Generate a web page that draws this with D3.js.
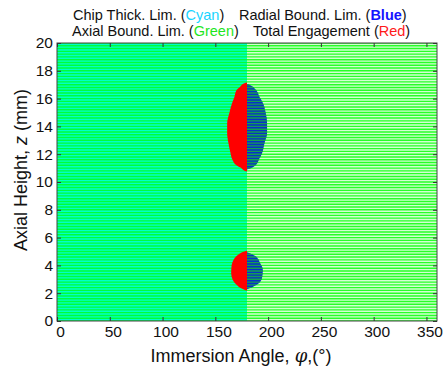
<!DOCTYPE html>
<html><head><meta charset="utf-8">
<script src="https://cdn.jsdelivr.net/npm/d3@7"></script>
<style>
body{margin:0;background:#fff}
svg{display:block}
text{font-family:"Liberation Sans",Arial,Helvetica,sans-serif}
</style>
</head><body>
<svg id="c" width="445" height="372"></svg>
<script>
// ---- data ----
const xTicks = [0, 50, 100, 150, 200, 250, 300, 350];
const yTicks = [0, 2, 4, 6, 8, 10, 12, 14, 16, 18, 20];
const zoneSplit = 180;           // angle where chip-thickness zone ends
const angleMax = 360;
const heightMax = 20;

// upper engagement blob: red (total engagement) starting angle per height
const topRedZ     = [17.15, 17.1, 16.86, 16.6, 16.1, 15.7, 15.0, 14.2, 13.5, 12.8, 12.1, 11.6, 11.2, 11.0, 10.8, 10.75];
const topRedStart = [180, 177.6, 173.5, 170, 168, 166, 163.4, 161.2, 161.2, 162.4, 164.3, 166.2, 170, 174.5, 178, 180];
// upper blob: blue (radial bound) exit angle per height
const topBlueZ    = [17.05, 17.0, 16.6, 16.1, 15.7, 15.0, 14.2, 13.5, 12.8, 12.1, 11.6, 11.2, 11.0, 10.9];
const topBlueEnd  = [180, 182, 188.7, 192, 195, 197.6, 199, 199, 196.6, 194.4, 191.2, 188, 184, 180];

// lower engagement blob
const botRedZ     = [5.05, 5.0, 4.75, 4.39, 3.9, 3.43, 2.95, 2.59, 2.35, 2.23, 2.18];
const botRedStart = [180, 177.6, 171.3, 167.2, 165.3, 165, 166.5, 170.3, 174.5, 178, 180];
const botBlueZ    = [4.95, 4.87, 4.63, 4.15, 3.67, 3.19, 2.83, 2.59, 2.35, 2.28];
const botBlueEnd  = [180, 182.4, 188.7, 192.5, 195, 194.4, 192.5, 188.7, 182.4, 180];

// ---- drawing ----
const svg = d3.select("#c");
const x = d3.scaleLinear().domain([0, angleMax]).range([57, 437]);
const y = d3.scaleLinear().domain([0, heightMax]).range([321, 43]);
const rows = y.ticks(100);

const plot = svg.append("g");
const defs = svg.append("defs");
defs.append("clipPath").attr("id","plotClip").append("rect")
  .attr("x", x(0)).attr("y", y(heightMax))
  .attr("width", x(angleMax)-x(0)).attr("height", y(0)-y(heightMax));
plot.attr("clip-path","url(#plotClip)");

// zone backgrounds
plot.append("rect").attr("x", x(0)).attr("y", y(heightMax))
  .attr("width", x(zoneSplit)-x(0)).attr("height", y(0)-y(heightMax)).attr("fill", "#00ffc8");
plot.append("rect").attr("x", x(zoneSplit)).attr("y", y(heightMax))
  .attr("width", x(angleMax)-x(zoneSplit)).attr("height", y(0)-y(heightMax)).attr("fill", "#d2ffd2");

// axial bound lines (green) at every height step
plot.append("g").selectAll("line").data(rows).join("line")
  .attr("x1", x(0)).attr("x2", x(zoneSplit))
  .attr("y1", d => y(d)).attr("y2", d => y(d))
  .attr("stroke", "#00ff3a").attr("stroke-width", 1.4);
plot.append("g").selectAll("line").data(rows).join("line")
  .attr("x1", x(zoneSplit)).attr("x2", x(angleMax))
  .attr("y1", d => y(d)).attr("y2", d => y(d))
  .attr("stroke", "#28ff28").attr("stroke-width", 1.4);

const pack = (zs, ps) => zs.map((z, i) => ({z: z, phi: ps[i]}));
const area = d3.area().curve(d3.curveMonotoneY)
  .y(d => y(d.z)).x0(x(zoneSplit)).x1(d => x(d.phi));

const blueBlobs = [pack(topBlueZ, topBlueEnd), pack(botBlueZ, botBlueEnd)];
const redBlobs = [pack(topRedZ, topRedStart), pack(botRedZ, botRedStart)];

// blue (radial bound)
const bc = defs.append("clipPath").attr("id", "blueClip");
bc.selectAll("path").data(blueBlobs).join("path").attr("d", area);
plot.append("g").selectAll("path").data(blueBlobs).join("path")
  .attr("d", area).attr("fill", "#0a2ecc");
plot.append("g").attr("clip-path", "url(#blueClip)")
  .selectAll("line").data(rows).join("line")
  .attr("x1", x(zoneSplit)).attr("x2", x(angleMax))
  .attr("y1", d => y(d)).attr("y2", d => y(d))
  .attr("stroke", "#14a050").attr("stroke-width", 1.4);

// red (total engagement)
plot.append("g").selectAll("path").data(redBlobs).join("path")
  .attr("d", area).attr("fill", "#ff0000");

// frame
svg.append("rect").attr("x", x(0)).attr("y", y(heightMax))
  .attr("width", x(angleMax)-x(0)).attr("height", y(0)-y(heightMax))
  .attr("fill", "none").attr("stroke", "#444").attr("stroke-width", 1);

// axes
const fs = "15.5px";
const axB = svg.append("g").attr("transform", `translate(0,${y(0)})`)
  .call(d3.axisBottom(x).tickValues(xTicks).tickSizeInner(-4).tickSizeOuter(0).tickPadding(5));
const axT = svg.append("g").attr("transform", `translate(0,${y(heightMax)})`)
  .call(d3.axisTop(x).tickValues(xTicks).tickSizeInner(-4).tickSizeOuter(0).tickFormat(""));
const axL = svg.append("g").attr("transform", `translate(${x(0)},0)`)
  .call(d3.axisLeft(y).tickValues(yTicks).tickSizeInner(-4).tickSizeOuter(0).tickPadding(4));
const axR = svg.append("g").attr("transform", `translate(${x(angleMax)},0)`)
  .call(d3.axisRight(y).tickValues(yTicks).tickSizeInner(-4).tickSizeOuter(0).tickFormat(""));
[axB, axT, axL, axR].forEach(g => {
  g.select(".domain").remove();
  g.selectAll(".tick line").attr("stroke", "#333");
  g.selectAll("text").attr("fill", "#111").style("font-size", fs)
    .style("font-family", '"Liberation Sans",Arial,sans-serif');
});
axB.selectAll("text").attr("dx", 3);

// axis titles
const xt = svg.append("text").attr("x", 241).attr("y", 362).attr("text-anchor", "middle")
  .attr("fill", "#111").style("font-size", "18px");
xt.append("tspan").text("Immersion Angle, ");
xt.append("tspan").style("font-style", "italic").style("font-family", '"DejaVu Serif",serif').text("φ");
xt.append("tspan").text(",(°)");

const yt = svg.append("text").attr("transform", "translate(27,170) rotate(-90)")
  .attr("text-anchor", "middle").attr("fill", "#111").style("font-size", "18px");
yt.append("tspan").text("Axial Height, ");
yt.append("tspan").style("font-style", "italic").text("z");
yt.append("tspan").text(" (mm)");

// legend-like title lines
function titlePart(xp, yp, pre, word, color, bold) {
  const t = svg.append("text").attr("x", xp).attr("y", yp).attr("fill", "#111").style("font-size", "14.5px");
  t.append("tspan").text(pre + "(");
  t.append("tspan").attr("fill", color).style("font-weight", bold ? "bold" : "normal").text(word);
  t.append("tspan").text(")");
}
titlePart(73, 19.5, "Chip Thick. Lim. ", "Cyan", "#19d4ff", false);
titlePart(239, 19.5, "Radial Bound. Lim. ", "Blue", "#1414ff", true);
titlePart(72, 36, "Axial Bound. Lim. ", "Green", "#1ee61e", false);
titlePart(253, 36, "Total Engagement ", "Red", "#ff1a1a", false);
</script>
</body></html>
